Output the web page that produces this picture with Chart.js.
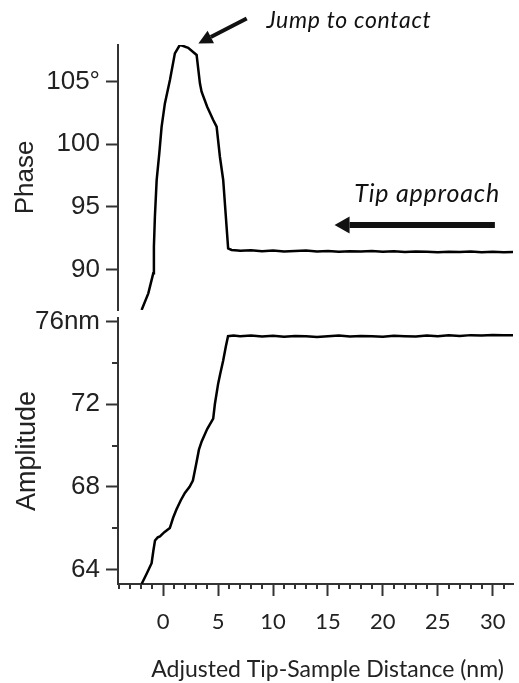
<!DOCTYPE html>
<html>
<head>
<meta charset="utf-8">
<script src="https://cdn.jsdelivr.net/npm/chart.js@4"></script>
<style>
  body { margin: 0; background: #fff; }
  #wrap { position: relative; width: 519px; height: 683px; }
  #wrap canvas { position: absolute; left: 0; top: 0; }
</style>
</head>
<body>
<div id="wrap">
  <canvas id="phaseChart" width="519" height="683"></canvas>
  <canvas id="ampChart" width="519" height="683"></canvas>
</div>
<script>
// distance (nm) and phase (deg)
const phaseX = [-1.97, -1.36, -0.91, -0.85, -0.76, -0.6, -0.36, -0.15, 0.15, 0.61, 1.06, 1.52, 2.27, 3.04,
  3.34, 3.49, 4.0, 4.55, 4.86, 5.16, 5.46, 5.91, 6.22, 6.8, 7, 8, 9, 10, 11, 12, 13, 14, 15, 16, 17, 18, 19, 20,
  21, 22, 23, 24, 25, 26, 27, 28, 29, 30, 31, 31.9];
const phaseY = [86.75, 88.08, 89.68, 91.8, 94.2, 97.13, 99.26, 101.39, 103.26, 105.13, 107.26, 107.95, 107.7, 107.13,
  104.87, 104.2, 103.0, 101.94, 101.4, 99.0, 97.14, 91.68, 91.55, 91.5, 91.48, 91.52, 91.45, 91.5, 91.42, 91.47, 91.5, 91.43, 91.46, 91.4, 91.45, 91.42, 91.47, 91.4,
  91.44, 91.38, 91.43, 91.4, 91.36, 91.41, 91.38, 91.43, 91.37, 91.4, 91.36, 91.38];

// distance (nm) and amplitude (nm)
const ampX = [-1.96, -1.5, -1.06, -0.9, -0.75, -0.5, -0.3, 0.1, 0.6, 0.9, 1.2, 1.6, 1.97, 2.4, 2.7, 2.85, 3.0, 3.25, 3.5, 4.0,
  4.55, 4.7, 5.0, 5.2, 5.45, 5.7, 5.9, 6.4, 7, 8, 9, 10, 11, 12, 13, 14, 15, 16, 17, 18, 19, 20, 21, 22, 23, 24, 25, 26, 27, 28, 29, 30, 31, 31.9];
const ampY = [63.3, 63.8, 64.3, 64.9, 65.4, 65.55, 65.6, 65.8, 66.0, 66.5, 66.9, 67.35, 67.7, 68.0, 68.3, 68.7, 69.1, 69.8, 70.2, 70.8,
  71.3, 72.0, 73.0, 73.5, 74.1, 74.8, 75.3, 75.33, 75.3, 75.33, 75.28, 75.32, 75.27, 75.31, 75.3, 75.26, 75.3, 75.33, 75.28, 75.31, 75.29, 75.27,
  75.32, 75.3, 75.28, 75.33, 75.3, 75.34, 75.31, 75.35, 75.33, 75.36, 75.34, 75.35];

const xTicks = [0, 5, 10, 15, 20, 25, 30];
const phaseTicks = [90, 95, 100, 105];
const ampTicks = [64, 68, 72, 76];
const ampMinor = [66, 70, 74];

const X_MIN = -4.12, X_MAX = 31.85;
const axisColor = '#333';
const textColor = '#222';

function pts(xs, ys) { return xs.map((x, i) => ({x: x, y: ys[i]})); }

const yAxisCommon = {
  border: { color: axisColor, width: 2 },
  grid: { drawOnChartArea: false, drawTicks: true, tickLength: 12, tickWidth: 2, tickColor: axisColor },
  ticks: { color: textColor, font: { family: 'Liberation Sans, Arial', size: 26 }, padding: 6 },
  afterFit(s) { s.width = 118; }
};

// arrows + italic notes
const notes = {
  id: 'notes',
  afterDraw(chart) {
    const ctx = chart.ctx, xs = chart.scales.x, ys = chart.scales.y;
    const px = v => xs.getPixelForValue(v), py = v => ys.getPixelForValue(v);
    ctx.save();
    ctx.fillStyle = '#111';
    ctx.strokeStyle = '#111';
    ctx.textBaseline = 'alphabetic';
    ctx.font = 'italic 23px Lato, "Open Sans", sans-serif';
    ctx.letterSpacing = '0.7px';
    ctx.fillText('Jump to contact', px(9.4), py(109.3));
    ctx.font = 'italic 25px Lato, "Open Sans", sans-serif';
    ctx.letterSpacing = '0.8px';
    ctx.fillText('Tip approach', px(17.4), py(95.41));
    ctx.letterSpacing = '0px';

    function arrow(x1, y1, x2, y2, w, headLen, headW) {
      const a = Math.atan2(y2 - y1, x2 - x1);
      const bx = x2 - headLen * Math.cos(a), by = y2 - headLen * Math.sin(a);
      ctx.lineWidth = w;
      ctx.beginPath(); ctx.moveTo(x1, y1); ctx.lineTo(bx, by); ctx.stroke();
      ctx.beginPath();
      ctx.moveTo(x2, y2);
      ctx.lineTo(bx + headW * Math.sin(a), by - headW * Math.cos(a));
      ctx.lineTo(bx - headW * Math.sin(a), by + headW * Math.cos(a));
      ctx.closePath(); ctx.fill();
    }
    arrow(px(7.6), py(110.05), px(3.2), py(108.05), 4, 14, 7);
    arrow(px(30.2), py(93.55), px(15.6), py(93.55), 6, 15, 8.5);
    ctx.restore();
  }
};

// short minor tick marks and the x-axis title
const minorTicks = {
  id: 'minorTicks',
  afterDraw(chart, args, opts) {
    const ctx = chart.ctx, area = chart.chartArea;
    ctx.save();
    ctx.strokeStyle = axisColor;
    ctx.lineWidth = 2;
    ctx.beginPath();
    (opts.y || []).forEach(v => {
      const y = Math.round(chart.scales.y.getPixelForValue(v));
      ctx.moveTo(area.left - 6, y); ctx.lineTo(area.left, y);
    });
    (opts.x || []).forEach(v => {
      const x = Math.round(chart.scales.x.getPixelForValue(v));
      ctx.moveTo(x, area.bottom); ctx.lineTo(x, area.bottom + 5);
    });
    ctx.stroke();

    ctx.fillStyle = textColor;
    ctx.font = '23px Lato, "Open Sans", sans-serif';
    ctx.textAlign = 'center';
    ctx.textBaseline = 'alphabetic';
    ctx.fillText(opts.title, (area.left + area.right) / 2 + 12, area.bottom + 93);
    ctx.restore();
  }
};

const xMinor = [];
for (let v = -4; v <= 31; v++) if (v % 5 !== 0) xMinor.push(v);

const lineStyle = { borderColor: '#000', borderWidth: 2.5, pointRadius: 0, showLine: true, tension: 0 };

new Chart(document.getElementById('phaseChart'), {
  type: 'scatter',
  data: { datasets: [Object.assign({ data: pts(phaseX, phaseY) }, lineStyle)] },
  options: {
    responsive: false, animation: false,
    layout: { padding: { top: 45, bottom: 373, left: 0, right: 6 } },
    plugins: { legend: { display: false }, tooltip: { enabled: false } },
    scales: {
      x: { type: 'linear', display: false, min: X_MIN, max: X_MAX },
      y: Object.assign({}, yAxisCommon, {
        min: 86.75, max: 107.93,
        afterBuildTicks(s) { s.ticks = phaseTicks.map(v => ({value: v})); },
        ticks: Object.assign({}, yAxisCommon.ticks, { callback: v => v === 105 ? '105°' : String(v) }),
        title: { display: true, text: 'Phase', color: textColor, font: { family: 'Liberation Sans, Arial', size: 26 }, padding: { top: 10 } }
      })
    }
  },
  plugins: [notes]
});

new Chart(document.getElementById('ampChart'), {
  type: 'scatter',
  data: { datasets: [Object.assign({ data: pts(ampX, ampY) }, lineStyle)] },
  options: {
    responsive: false, animation: false,
    layout: { padding: { top: 318, bottom: 0, left: 0, right: 6 } },
    plugins: {
      legend: { display: false }, tooltip: { enabled: false },
      minorTicks: { x: xMinor, y: ampMinor, title: 'Adjusted Tip-Sample Distance (nm)' }
    },
    scales: {
      x: {
        type: 'linear', min: X_MIN, max: X_MAX,
        border: { color: axisColor, width: 2 },
        grid: { drawOnChartArea: false, drawTicks: true, tickLength: 12, tickWidth: 2, tickColor: axisColor },
        afterBuildTicks(s) { s.ticks = xTicks.map(v => ({value: v})); },
        afterFit(s) { s.height = 99; },
        ticks: { color: textColor, font: { family: 'Lato, "Open Sans", sans-serif', size: 22 }, padding: 13, maxRotation: 0 }
      },
      y: Object.assign({}, yAxisCommon, {
        min: 63.29, max: 76.18,
        afterBuildTicks(s) { s.ticks = ampTicks.map(v => ({value: v})); },
        ticks: Object.assign({}, yAxisCommon.ticks, { callback: v => v === 76 ? '76nm' : String(v) }),
        title: { display: true, text: 'Amplitude', color: textColor, font: { family: 'Liberation Sans, Arial', size: 27 }, padding: { top: 11 } }
      })
    }
  },
  plugins: [minorTicks]
});
</script>
</body>
</html>
